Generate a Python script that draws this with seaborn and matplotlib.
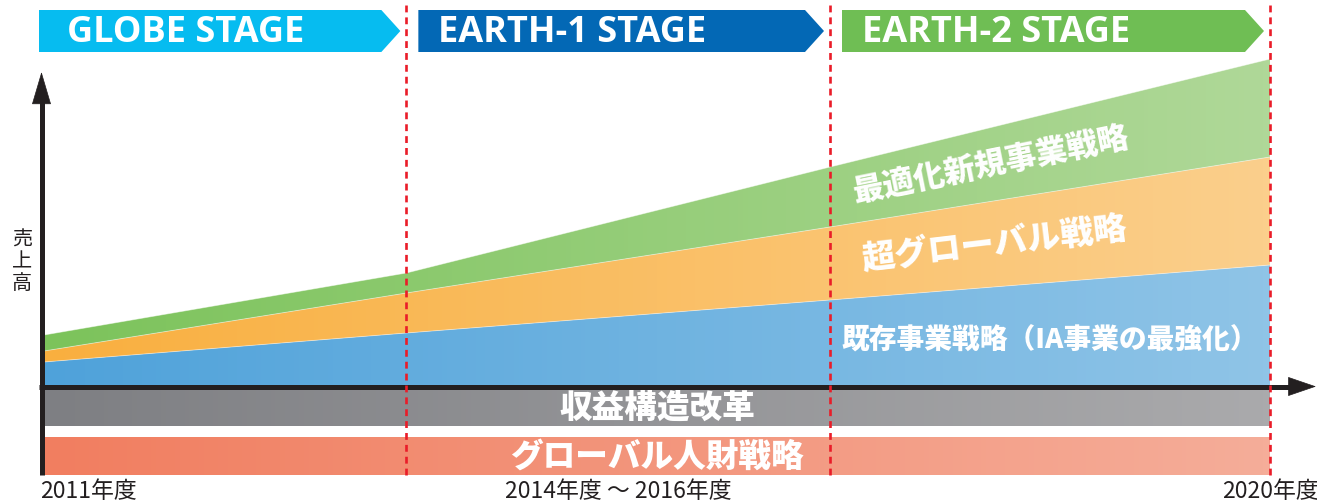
import numpy as np
import pandas as pd
import matplotlib
matplotlib.use('Agg')
import matplotlib.pyplot as plt
import seaborn as sns
from matplotlib.colors import LinearSegmentedColormap
from matplotlib.patches import Polygon

# stage boundaries on the fiscal-year axis
stage_x = [2011.0, 2013.66, 2016.77, 2020.0]
stage_names = ['GLOBE STAGE', 'EARTH-1 STAGE', 'EARTH-2 STAGE']
stage_colors = ['#06bcf0', '#0368b5', '#6fbe54']

# 売上高 stack (arbitrary units)
layer_names = ['既存事業戦略（IA事業の最強化）', '超グローバル戦略', '最適化新規事業戦略']
existing = [25, 54, 87, 122]
global_ = [11, 40, 73, 108]
new_biz = [16, 20, 60, 98]
layer_grad = [('#4fa2da', '#8fc4e7'), ('#f9af3f', '#fbcf8c'), ('#7cc35b', '#afd898')]

# base strategies drawn as bands under the axis
band_names = ['収益構造改革', 'グローバル人財戦略']
band_lo = [-39, -88]
band_hi = [-2, -50]
band_grad = [('#7e7f83', '#aaaaac'), ('#f17e60', '#f5ad99')]

year_labels = ['2011年度', '2014年度 〜 2016年度', '2020年度']
ylabel = '売上高'

sns.set_theme(style='white')
plt.rcParams['font.family'] = ['Noto Sans CJK JP', 'DejaVu Sans']

W, H = 1317, 500
fig = plt.figure(figsize=(W / 100, H / 100), dpi=100)
ax = fig.add_axes([0, 0, 1, 1])
ax.axis('off')

PX = 1226 / (stage_x[-1] - stage_x[0])   # pixels per year
def px(n):
    return n / PX

x0 = stage_x[0] - px(44)
ax.set_xlim(x0, x0 + px(W))
ax.set_ylim(387 - H, 387)

dark = '#231f20'


def grad_fill(x, lo, hi, c0, c1):
    x = np.asarray(x, float)
    lo = np.broadcast_to(np.asarray(lo, float), x.shape)
    hi = np.broadcast_to(np.asarray(hi, float), x.shape)
    poly = ax.fill_between(x, lo, hi, facecolor='none', edgecolor='none')
    cmap = LinearSegmentedColormap.from_list('g', [c0, c1])
    im = ax.imshow(np.linspace(0, 1, 256)[None, :], cmap=cmap, aspect='auto',
                   extent=[x[0], x[-1], lo.min(), hi.max()], origin='lower',
                   interpolation='bilinear', zorder=1)
    im.set_clip_path(poly.get_paths()[0], ax.transData)


# stacked areas
layers = [existing, global_, new_biz]
bottom = np.zeros(len(stage_x))
tops = []
for vals, (c0, c1) in zip(layers, layer_grad):
    top = bottom + np.array(vals)
    grad_fill(stage_x, bottom, top, c0, c1)
    tops.append((bottom.copy(), top.copy()))
    bottom = top

edges = pd.DataFrame({
    'x': np.tile(stage_x, 3),
    'top': np.concatenate([t for _, t in tops]),
    'layer': np.repeat(layer_names, len(stage_x)),
})
sns.lineplot(data=edges, x='x', y='top', hue='layer', palette=['white'] * 3,
             linewidth=0.6, alpha=0.5, legend=False, ax=ax, zorder=2)

# layer labels
lab_at = [stage_x[2] + px(220), stage_x[2] + px(165), stage_x[2] + px(161)]
lab_size = [20, 24, 22.5]
for i, (name, xl) in enumerate(zip(layer_names, lab_at)):
    lo, hi = tops[i]
    ym = (np.interp(xl, stage_x, lo) + np.interp(xl, stage_x, hi)) / 2
    if i == 0:
        ym -= 6
        rot = 0
    else:
        s = ((hi[3] - hi[2]) + (lo[3] - lo[2])) / 2 / ((stage_x[3] - stage_x[2]) * PX)
        rot = np.degrees(np.arctan(s))
    ax.text(xl, ym, name, color='white', fontsize=lab_size[i], fontweight='black',
            ha='center', va='center', rotation=rot, rotation_mode='anchor', zorder=5)

# bands
for name, lo, hi, (c0, c1) in zip(band_names, band_lo, band_hi, band_grad):
    grad_fill([stage_x[0], stage_x[-1]], lo, hi, c0, c1)
    ax.text((stage_x[0] + stage_x[-1]) / 2, (lo + hi) / 2 - 1, name, color='white',
            fontsize=23.5, fontweight='black', ha='center', va='center', zorder=5)

# axes with arrows
ya = stage_x[0] - px(2.5)
ax.plot([ya, ya], [band_lo[-1], 290], color=dark, lw=3.6, solid_capstyle='butt', zorder=6)
ax.annotate('', xy=(ya, 315), xytext=(ya, 280),
            arrowprops=dict(arrowstyle='-|>,head_length=22,head_width=6.5', mutation_scale=1,
                            lw=0.5, color=dark, shrinkA=0, shrinkB=0), zorder=6)
ax.plot([stage_x[0] - px(5), stage_x[-1] + px(30)], [0.5, 0.5], color=dark, lw=3.6,
        solid_capstyle='butt', zorder=6)
ax.annotate('', xy=(stage_x[-1] + px(46), 0.5), xytext=(stage_x[-1] + px(10), 0.5),
            arrowprops=dict(arrowstyle='-|>,head_length=19,head_width=6.5', mutation_scale=1,
                            lw=0.5, color=dark, shrinkA=0, shrinkB=0), zorder=6)

# stage dividers
ax.vlines(stage_x[1:], band_lo[-1], 382, colors='#ea1c28', lw=1.9,
          linestyles=[(0, (2.6, 1.9))], zorder=7)

# stage banners
y_lo, y_hi = 335, 377
for i, (name, col) in enumerate(zip(stage_names, stage_colors)):
    left = stage_x[i] - px(5) if i == 0 else stage_x[i] + px(12)
    rect_end = stage_x[i + 1] - px(25)
    tip = stage_x[i + 1] - px(6)
    ax.add_patch(Polygon([(left, y_lo), (rect_end, y_lo), (tip, (y_lo + y_hi) / 2),
                          (rect_end, y_hi), (left, y_hi)], closed=True,
                         facecolor=col, edgecolor='none', zorder=4))
    ax.text(left + px(28 if i == 0 else 20), (y_lo + y_hi) / 2 - 2, name, color='white',
            fontsize=26, fontweight='bold', family=['Open Sans', 'DejaVu Sans'],
            ha='left', va='center', zorder=5)

# texts on the axes
ax.text(stage_x[0] - px(4), -104, year_labels[0], color=dark, fontsize=16.5,
        ha='left', va='center')
ax.text((stage_x[1] + stage_x[2]) / 2, -104, year_labels[1], color=dark, fontsize=16.5,
        ha='center', va='center')
ax.text(stage_x[-1], -104, year_labels[2], color=dark, fontsize=16.5,
        ha='center', va='center')
ax.text(stage_x[0] - px(22), 125, '\n'.join(ylabel), color=dark, fontsize=14.5,
        ha='center', va='center', linespacing=1.05)

fig.savefig('out.png', dpi=100)
